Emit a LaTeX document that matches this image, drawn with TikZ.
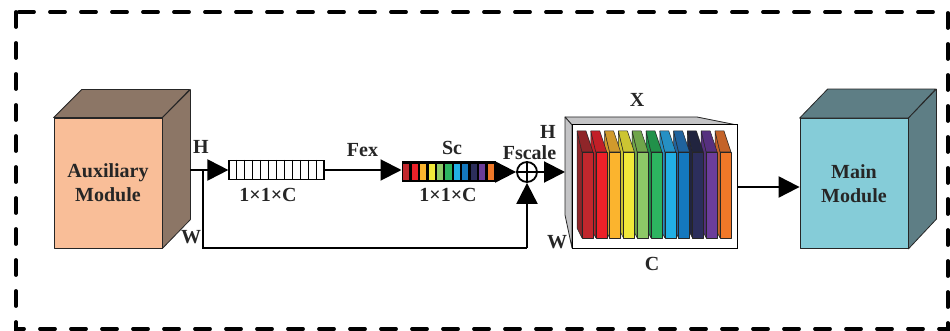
\documentclass[tikz,border=0pt]{standalone}
\usepackage{fontspec}
\setmainfont{Liberation Serif}
\usetikzlibrary{arrows.meta,calc}
\definecolor{peach}{HTML}{F9BE98}
\definecolor{brownside}{HTML}{8C7666}
\definecolor{tealfront}{HTML}{85CCD8}
\definecolor{tealside}{HTML}{5E7E85}
\definecolor{graybox}{HTML}{C4C4C6}
\definecolor{txt}{HTML}{262626}
\definecolor{sfa}{HTML}{C1272D}\definecolor{sta}{HTML}{8F2529}
\definecolor{sfb}{HTML}{ED2129}\definecolor{stb}{HTML}{C21F28}
\definecolor{sfc}{HTML}{FBB42E}\definecolor{stc}{HTML}{D19A2C}
\definecolor{sfd}{HTML}{F1E83A}\definecolor{std}{HTML}{CCC532}
\definecolor{sfe}{HTML}{8DC967}\definecolor{ste}{HTML}{70A54A}
\definecolor{sff}{HTML}{2DB460}\definecolor{stf}{HTML}{21914A}
\definecolor{sfg}{HTML}{22B0E6}\definecolor{stg}{HTML}{2590C4}
\definecolor{sfh}{HTML}{1478BE}\definecolor{sth}{HTML}{20639E}
\definecolor{sfi}{HTML}{2C2E5C}\definecolor{sti}{HTML}{21243F}
\definecolor{sfj}{HTML}{6B3D9A}\definecolor{stj}{HTML}{56307F}
\definecolor{sfk}{HTML}{F07828}\definecolor{stk}{HTML}{C46329}
\begin{document}
\begin{tikzpicture}[x=1pt,y=-1pt,
  font=\fontsize{20}{24}\selectfont\bfseries,
  lbl/.style={anchor=base, inner sep=0pt, text=txt},
  arr/.style={line width=2pt, -{Triangle[length=21pt,width=21pt]}},
  face/.style={draw=black!85, line width=0.8pt, line join=round},
  slabline/.style={draw=black!85, line width=0.5pt, line join=round},
  cubefront/.style={rectangle, face, minimum width=108pt, minimum height=130pt, inner sep=0pt, align=center, text=txt}]
\useasboundingbox (0,0) rectangle (950,331);
% outer dashed frame
\draw[line width=3.8pt, dash pattern=on 15pt off 16pt, line cap=round] (16,12) rectangle (948,329);
% auxiliary module cube
\node[cubefront, fill=peach] (aux) at (108,183) {Auxiliary\\Module};
\filldraw[face, fill=brownside] (aux.north west) -- ++(28,-28) -- ++(108,0) -- (aux.north east) -- cycle;
\filldraw[face, fill=brownside] (aux.north east) -- ++(28,-28) -- ++(0,130) -- (aux.south east) -- cycle;
% main module cube
\node[cubefront, fill=tealfront] (main) at (854,183.5) {Main\\Module};
\filldraw[face, fill=tealside] (main.north west) -- ++(28,-29) -- ++(108,0) -- (main.north east) -- cycle;
\filldraw[face, fill=tealside] (main.north east) -- ++(28,-29) -- ++(0,130) -- (main.south east) -- cycle;
% 1x1xC white vector
\node[draw, line width=1.2pt, minimum width=95pt, minimum height=19pt, inner sep=0pt] (box1) at (276.5,170) {};
\foreach \i in {1,...,11}
  \draw[line width=1pt] ($(box1.north west)!\i/12!(box1.north east)$) -- ($(box1.south west)!\i/12!(box1.south east)$);
% coloured vector
\node[draw, fill=black, line width=1pt, minimum width=93pt, minimum height=20pt, inner sep=0pt] (box2) at (448.5,172) {};
\foreach \i/\c in {0/sfa,1/sfb,2/sfc,3/sfd,4/sfe,5/sff,6/sfg,7/sfh,8/sfi,9/sfj,10/sfk}{
  \pgfmathsetmacro\cx{402+93/11*\i}
  \fill[\c] (\cx+1.2,164) rectangle (\cx+93/11-1.2,180);
}
% circle with plus
\node[circle, draw, line width=1.8pt, minimum size=20pt, inner sep=0pt] (circ) at (527,172) {};
\draw[line width=1.8pt] (circ.north) -- (circ.south) (circ.west) -- (circ.east);
% feature map box
\filldraw[face, fill=graybox] (565,117) -- (697,117) -- (737,125) -- (572,125) -- cycle;
\filldraw[face, fill=graybox] (565,117) -- (572,125) -- (572,248) -- (565,215) -- cycle;
\node[draw, fill=white, line width=1pt, minimum width=165pt, minimum height=123pt, inner sep=0pt] (feat) at (654.5,186.5) {};
\foreach \i/\cf/\ct in {10/sfk/stk,9/sfj/stj,8/sfi/sti,7/sfh/sth,6/sfg/stg,5/sff/stf,4/sfe/ste,3/sfd/std,2/sfc/stc,1/sfb/stb,0/sfa/sta}{
  \pgfmathsetmacro\fx{582+13.8*\i}
  \filldraw[slabline, fill=\ct] (\fx-5,131) -- (\fx,152) -- (\fx,238) -- (\fx-5,228) -- cycle;
  \filldraw[slabline, fill=\ct] (\fx-5,131) -- (\fx+4,131) -- (\fx+11,152) -- (\fx,152) -- cycle;
  \filldraw[slabline, fill=\cf] (\fx,152) rectangle (\fx+11,238);
}
% connectors
\coordinate (auxout) at (190,170);
\coordinate (br) at (203,170);
\coordinate (bypass) at (527,248);
\coordinate (featin) at (565,172);
\draw[arr] (auxout) -- (box1.west);
\draw[line width=2pt] (br) |- (bypass);
\draw[arr] (bypass) -- (circ.south);
\draw[arr] (box1.east) -- (box1.east -| box2.west);
\draw[arr] (box2.east) -- (circ.west);
\draw[arr] (circ.east) -- (featin);
\draw[arr] (feat.east |- 0,187) -- (main.west |- 0,187);
% labels
\node[lbl] (h1) at (201,154) {H};
\node[lbl] (w1) at (191,243) {W};
\node[lbl] (d1) at (268,202) {1×1×C};
\node[lbl] (fex) at (362.5,157) {Fex};
\node[lbl] (sc) at (452,155) {Sc};
\node[lbl] (d2) at (448,202) {1×1×C};
\node[lbl] (fsc) at (529.5,160) {Fscale};
\node[lbl] (h2) at (548,139) {H};
\node[lbl] (xl) at (637,107) {X};
\node[lbl] (cl) at (652,270) {C};
\node[lbl] (w2) at (557,248) {W};
\end{tikzpicture}
\end{document}
